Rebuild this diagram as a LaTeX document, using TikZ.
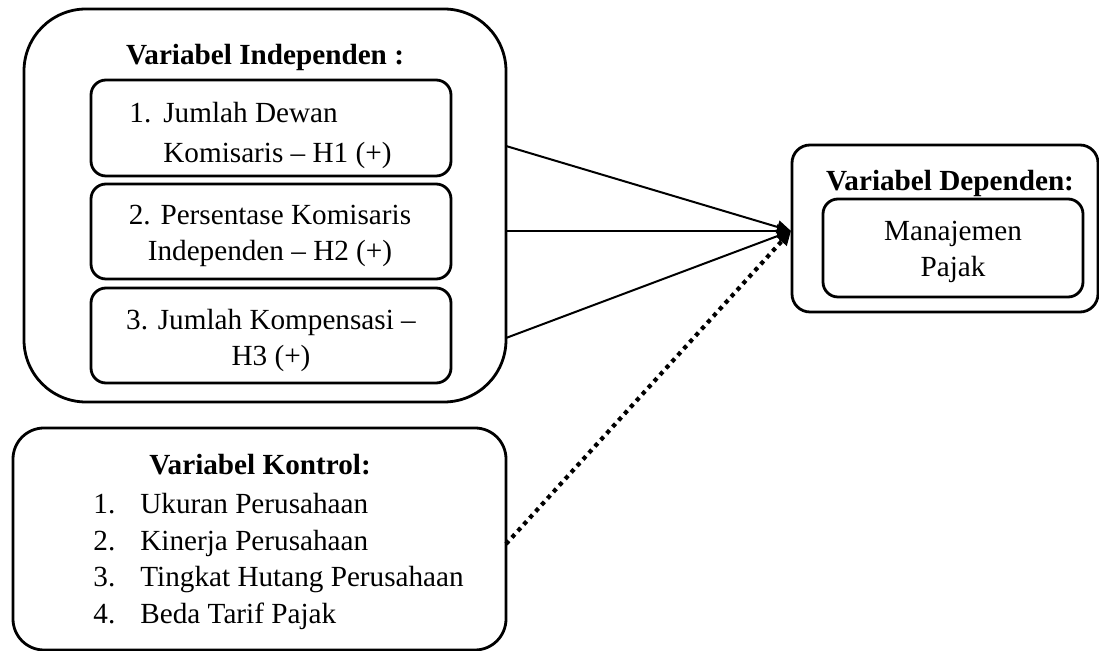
\documentclass[tikz,border=0pt]{standalone}
\usepackage{fontspec}
\setmainfont{Liberation Serif}
\usetikzlibrary{arrows.meta}

\begin{document}
\begin{tikzpicture}[x=0.5pt,y=-0.5pt,
    node font=\fontsize{14.6}{18}\selectfont,
    headtext/.style={font=\bfseries, anchor=base}]
    \useasboundingbox (0,0) rectangle (1099,651);

    % boxes
    \begin{scope}[every node/.style={draw, line width=1.4pt, inner sep=0pt}]
        \node [rounded corners=31pt, minimum width=241pt, minimum height=196.5pt] (indep) at (265,205.5) {};
        \node [rounded corners=7.5pt, minimum width=180pt, minimum height=48pt] (dewan) at (271,128) {};
        \node [rounded corners=7.5pt, minimum width=180pt, minimum height=47.5pt] (persen) at (271,231.5) {};
        \node [rounded corners=7.5pt, minimum width=180pt, minimum height=47.5pt] (kompen) at (271,335.5) {};
        \node [rounded corners=9pt, minimum width=153pt, minimum height=83.5pt] (dep) at (945,228.5) {};
        \node [rounded corners=7.5pt, minimum width=130pt, minimum height=49pt] (pajak) at (953,248) {};
        \node [rounded corners=15.5pt, minimum width=246.5pt, minimum height=111pt] (kontrol) at (259.5,539) {};
    \end{scope}

    % texts
    \begin{scope}[every node/.style={inner sep=0pt, align=center}]
        \node [headtext] (indepT) at (265,65) {Variabel Independen :};
        \node [anchor=west, align=left] (dewanT) at (129,135) {\makebox[17pt][l]{1.}Jumlah Dewan\\[2pt]\hspace*{17pt}Komisaris – H1 (+)};
        \node (persenT) at (270,236) {2. Persentase Komisaris\\Independen – H2 (+)};
        \node (kompenT) at (271,340) {3. Jumlah Kompensasi –\\H3 (+)};
        \node [headtext] (depT) at (950,191) {Variabel Dependen:};
        \node (pajakT) at (953,251.5) {Manajemen\\Pajak};
        \node [headtext] (kontrolT) at (260,475) {Variabel Kontrol:};
        \node [anchor=base west] (kontrolL) at (93,514) {\fontsize{14.6}{18.25}\selectfont
            \begin{tabular}[t]{@{}p{23.5pt}@{}l@{}}
                1. & Ukuran Perusahaan\\
                2. & Kinerja Perusahaan\\
                3. & Tingkat Hutang Perusahaan\\
                4. & Beda Tarif Pajak
            \end{tabular}};
    \end{scope}

    \coordinate (o1) at (506,146);
    \coordinate (o2) at (506,231);
    \coordinate (o3) at (506,338);
    \coordinate (k1) at (506,544);
    \coordinate (tip) at (791,231);

    \begin{scope}[>={Triangle[length=7pt,width=6.5pt]},
                every edge/.style={draw, line width=1pt}]
        \path [->] (o1) edge (tip);
        \path [->] (o2) edge (tip);
        \path [->] (o3) edge (tip);
        \path [->] (k1) edge [line width=2.1pt, dash pattern=on 2.1pt off 2.3pt] (tip);
    \end{scope}
\end{tikzpicture}
\end{document}
